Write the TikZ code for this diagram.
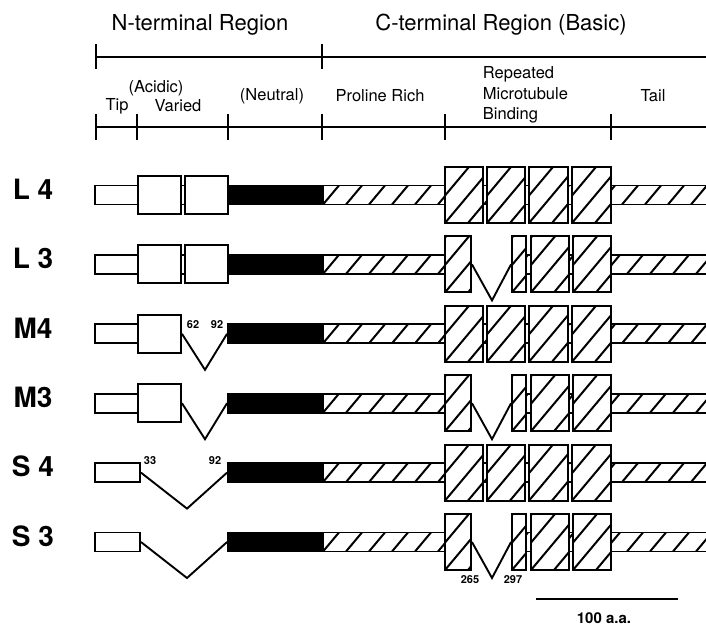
\documentclass[tikz,border=0pt]{standalone}
\usepackage{fontspec}
\setmainfont{TeX Gyre Heros}

\begin{document}
\begin{tikzpicture}[x=1pt, y=-1pt, line width=1.9pt,
        bar/.style={draw, fill=white, inner sep=0pt, minimum height=19pt},
        nbox/.style={draw, fill=white, inner sep=0pt, minimum height=38pt},
        hbar/.style={draw, fill=white, inner sep=0pt, minimum height=19pt,
          path picture={\foreach \k in {-2,...,18}
            \draw[line width=2pt] ([xshift=\k*23pt]path picture bounding box.south west) -- ++(50.3, -60);}},
        mtbox/.style={hbar, minimum height=56pt},
        neutral/.style={draw, fill=black, inner sep=0pt, minimum height=19pt, minimum width=95pt},
        head/.style={font=\fontsize{22}{26}\selectfont},
        part/.style={font=\fontsize{16.5}{20.5}\selectfont, inner sep=0pt},
        rowlab/.style={font=\fontsize{28}{30}\selectfont\bfseries},
        num/.style={font=\fontsize{11}{12}\selectfont\bfseries, inner sep=0pt},
      ]
      \useasboundingbox (0,0) rectangle (706,626);

      % region headings and rulers
      \node[head] (nterm) at (200, 25) {N-terminal Region};
      \node[head] (cterm) at (501, 25) {C-terminal Region (Basic)};
      \coordinate (ru-l) at (96, 57);
      \coordinate (ru-r) at (710, 57);
      \draw (ru-l) -- (ru-r);
      \foreach \x in {96, 322} \draw (\x, 44) -- (\x, 69);
      \coordinate (rl-l) at (96, 127);
      \coordinate (rl-r) at (710, 127);
      \draw (rl-l) -- (rl-r);
      \foreach \x in {96, 137, 228, 322, 445, 611} \draw (\x, 114) -- (\x, 140);

      \node[part] (tip) at (117, 106) {Tip};
      \node[part] (acidic) at (156, 88) {(Acidic)};
      \node[part] (varied) at (178, 106) {Varied};
      \node[part] (neutr) at (272, 96) {(Neutral)};
      \node[part] (proline) at (380, 96) {Proline Rich};
      \node[part, align=left, anchor=west] (repeat) at (482, 95) {Repeated\\Microtubule\\Binding};
      \node[part] (tail) at (653, 96) {Tail};

      % row labels and neutral block
      \foreach \n/\y/\lab in {L4/195/L 4, L3/264.4/L 3, M4/333.8/M4, M3/403.2/M3, S4/472.6/S 4, S3/542/S 3} {
        \node[rowlab] (\n-lab) at (33, \y-6) {\lab};
        \node[neutral] (\n-neu) at (275.5, \y) {};
      }

      % N-terminal: two inserts
      \foreach \n/\y in {L4/195, L3/264.4} {
        \node[bar, minimum width=133pt] (\n-tip) at (161.5, \y) {};
        \node[nbox, minimum width=43pt] (\n-a1) at (159.5, \y) {};
        \node[nbox, minimum width=43pt] (\n-a2) at (206.5, \y) {};
      }
      % N-terminal: one insert
      \foreach \n/\y in {M4/333.8, M3/403.2} {
        \node[bar, minimum width=86pt] (\n-tip) at (138, \y) {};
        \node[nbox, minimum width=43pt] (\n-a1) at (159.5, \y) {};
        \coordinate (\n-v) at (205, \y+36);
        \draw (\n-a1.east) -- (\n-v) -- (\n-neu.west);
      }
      % N-terminal: no insert
      \foreach \n/\y in {S4/472.6, S3/542} {
        \node[bar, minimum width=45pt] (\n-tip) at (117.5, \y) {};
        \coordinate (\n-v) at (187, \y+36);
        \draw (\n-tip.east) -- (\n-v) -- (\n-neu.west);
      }

      % C-terminal: four repeats
      \foreach \n/\y in {L4/195, M4/333.8, S4/472.6} {
        \node[hbar, minimum width=387pt] (\n-pro) at (516.5, \y) {};
        \node[mtbox, minimum width=38pt] (\n-r1) at (464, \y) {};
        \node[mtbox, minimum width=38pt] (\n-r2) at (506, \y) {};
        \node[mtbox, minimum width=39pt] (\n-r3) at (548.5, \y) {};
        \node[mtbox, minimum width=39pt] (\n-r4) at (591.5, \y) {};
      }
      % C-terminal: three repeats
      \foreach \n/\y in {L3/264.4, M3/403.2, S3/542} {
        \node[hbar, minimum width=148pt] (\n-pro) at (397, \y) {};
        \node[hbar, minimum width=198pt] (\n-tl) at (611, \y) {};
        \node[mtbox, minimum width=26pt] (\n-r1) at (458, \y) {};
        \node[mtbox, minimum width=14pt] (\n-r2) at (519, \y) {};
        \node[mtbox, minimum width=38pt] (\n-r3) at (550, \y) {};
        \node[mtbox, minimum width=38pt] (\n-r4) at (592, \y) {};
        \coordinate (\n-w) at (492, \y+36);
        \draw (\n-r1.east) -- (\n-w) -- (\n-r2.west);
      }

      % splice junctions
      \node[num] (m4-62) at (193, 325) {62};
      \node[num] (m4-92) at (217, 325) {92};
      \node[num] (s4-33) at (150, 461) {33};
      \node[num] (s4-92) at (215, 461) {92};
      \node[num] (s3-265) at (470, 580) {265};
      \node[num] (s3-297) at (513, 580) {297};

      % scale
      \coordinate (sc-l) at (536, 599);
      \coordinate (sc-r) at (678, 599);
      \draw (sc-l) -- (sc-r);
      \node[font=\fontsize{15}{16}\selectfont\bfseries] (scale) at (604, 618) {100 a.a.};
      \end{tikzpicture}
\end{document}
